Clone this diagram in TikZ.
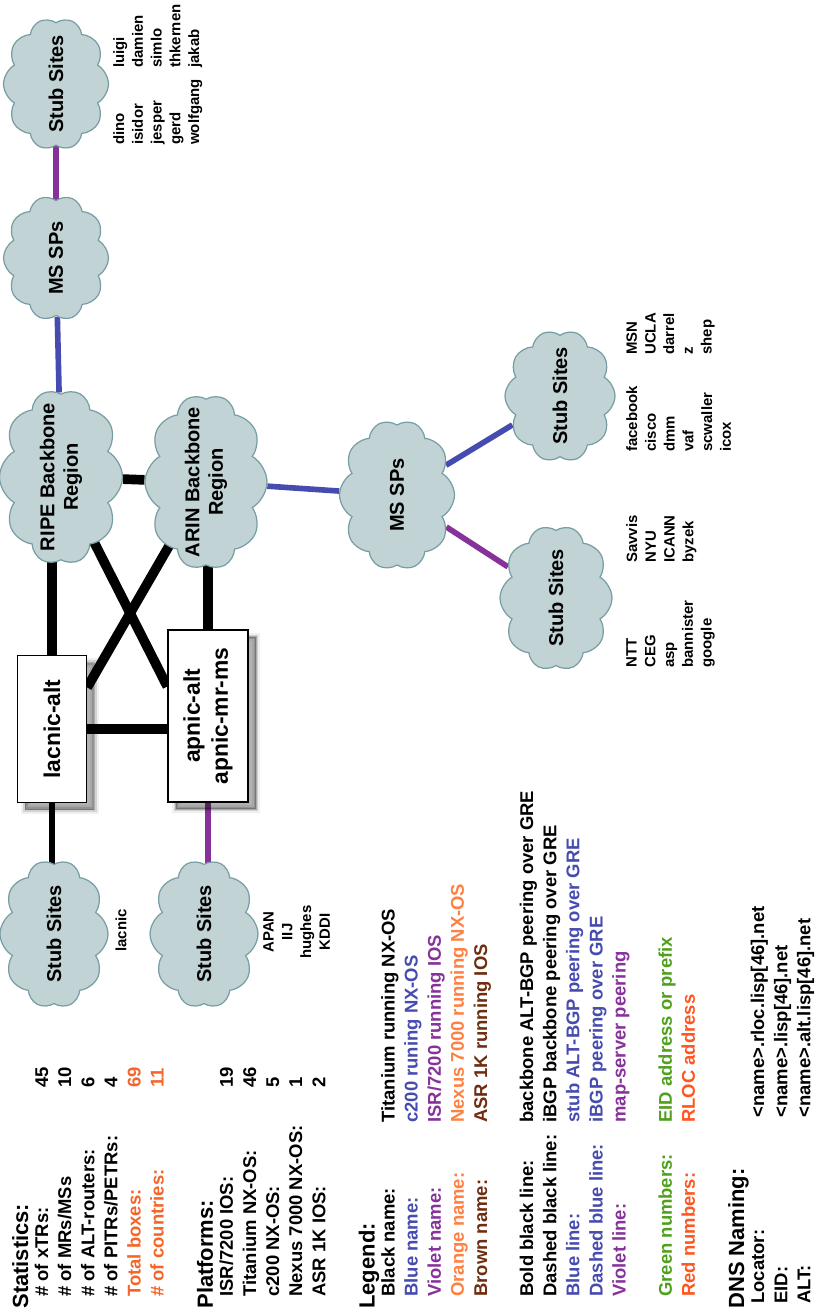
\documentclass[tikz,border=0pt]{standalone}
\usepackage{fontspec}
\setmainfont{Liberation Sans}
\usetikzlibrary{shapes.symbols,shadows,calc}
\definecolor{cloudfill}{RGB}{194,211,213}
\definecolor{cloudline}{RGB}{120,158,163}
\definecolor{cblue}{RGB}{70,75,175}
\definecolor{cviolet}{RGB}{135,50,155}
\definecolor{corange}{RGB}{255,128,64}
\definecolor{ctotal}{RGB}{245,100,40}
\definecolor{cred}{RGB}{255,85,30}
\definecolor{cgreen}{RGB}{80,160,30}
\definecolor{cbrown}{RGB}{110,45,15}
\pgfdeclarelayer{bg}
\pgfdeclarelayer{links}
\pgfsetlayers{bg,links,main}
\tikzset{
  cloudn/.style={cloud, cloud puffs=10, cloud puff arc=120, draw=cloudline, fill=cloudfill, line width=0.7pt, inner sep=0pt},
  ctext/.style={align=center, inner sep=0pt, font=\fontsize{11.4}{13.5}\selectfont\bfseries},
  boxn/.style={draw=black, line width=0.8pt, fill=white, align=center, inner sep=0pt, font=\fontsize{13}{16}\selectfont\bfseries,
    general shadow={shadow xshift=4.5pt, shadow yshift=-4pt, draw=black, draw opacity=0.06, line width=5pt, fill=black, fill opacity=0.3},
    general shadow={shadow xshift=4.5pt, shadow yshift=-4pt, draw=black, draw opacity=0.12, line width=2.6pt},
    general shadow={shadow xshift=4.5pt, shadow yshift=-4pt, draw=black, draw opacity=0.18, line width=0.8pt}},
  boldlink/.style={line width=5.5pt, black},
  thinlink/.style={line width=3.2pt, black},
  bluelink/.style={line width=3.2pt, cblue},
  violetlink/.style={line width=3.2pt, cviolet},
  lt/.style={inner sep=0pt, anchor=base west, font=\fontsize{10.5}{12}\selectfont\bfseries},
  hd/.style={inner sep=0pt, anchor=base west, font=\fontsize{12.5}{14}\selectfont\bfseries},
  names/.style={inner sep=0pt, anchor=north west, align=left, font=\fontsize{8.5}{10.66}\selectfont\bfseries},
}
\begin{document}
\begin{tikzpicture}
\begin{scope}[x=0.02cm, y=-0.02cm, rotate=90, transform shape]
\begin{pgfonlayer}{bg}
\fill[white] (0,0) rectangle (1316,819);
\end{pgfonlayer}
\useasboundingbox (0,0) rectangle (1316,819);

% clouds
\node[cloudn, minimum width=2.64cm, minimum height=2.1cm] (stubTR) at (1232,56) {};
\node[cloudn, minimum width=2.5cm, minimum height=2.1cm] (msTop) at (1058,56) {};
\node[cloudn, minimum width=3.5cm, minimum height=2.46cm] (RIPE) at (839,61) {};
\node[cloudn, minimum width=3.5cm, minimum height=2.44cm] (ARIN) at (834,206) {};
\node[cloudn, minimum width=3.0cm, minimum height=2.3cm] (msMid) at (821,397) {};
\node[cloudn, minimum width=2.64cm, minimum height=2.2cm] (stubR) at (920,560) {};
\node[cloudn, minimum width=2.9cm, minimum height=2.24cm] (stubL2) at (718,556) {};
\node[cloudn, minimum width=2.96cm, minimum height=2.16cm] (stubL) at (382,54) {};
\node[cloudn, minimum width=2.96cm, minimum height=2.16cm] (stubA) at (382,204) {};

\node[ctext] (stubTRt) at (stubTR) {Stub Sites};
\node[ctext] (msTopt) at (msTop) {MS SPs};
\node[ctext] (RIPEt) at (RIPE) {RIPE Backbone\\Region};
\node[ctext] (ARINt) at (ARIN) {ARIN Backbone\\Region};
\node[ctext] (msMidt) at (msMid) {MS SPs};
\node[ctext] (stubRt) at (stubR) {Stub Sites};
\node[ctext] (stubL2t) at (stubL2) {Stub Sites};
\node[ctext] (stubLt) at (stubL) {Stub Sites};
\node[ctext] (stubAt) at (stubA) {Stub Sites};

% boxes
\node[boxn, minimum width=2.94cm, minimum height=1.38cm] (lacnic) at (587,52) {lacnic-alt};
\node[boxn, minimum width=3.44cm, minimum height=1.6cm] (apnic) at (600,208) {apnic-alt\\apnic-mr-ms};

\begin{pgfonlayer}{links}
\draw[violetlink] (msTop) -- (stubTR);
\draw[bluelink] (RIPE) -- (msTop);
\draw[boldlink] (RIPE) -- (ARIN);
\draw[bluelink] (ARIN) -- (msMid);
\draw[bluelink] (msMid) -- (stubR);
\draw[violetlink] (msMid) -- (stubL2);
\draw[boldlink] (lacnic.east) -- (lacnic.east -| RIPE.center);
\draw[boldlink] (apnic.east) -- (apnic.east -| ARIN.center);
\draw[boldlink] (lacnic.south) -- (lacnic.south |- apnic.north);
\draw[boldlink] ($(lacnic.south west)!0.78!(lacnic.south east)$) -- (ARIN.center);
\draw[boldlink] ($(apnic.north west)!0.67!(apnic.north east)$) -- (RIPE.center);
\draw[thinlink] (lacnic.west) -- (lacnic.west -| stubL.center);
\draw[violetlink] (apnic.west) -- (apnic.west -| stubA.center);
\end{pgfonlayer}

% site name lists
\node[names] (trA) at (1171,113) {dino\\isidor\\jesper\\gerd\\wolfgang};
\node[names] (trB) at (1248,113) {luigi\\damien\\simlo\\thkernen\\jakab};
\node[names] (srA) at (864,626) {facebook\\cisco\\dmm\\vaf\\scwaller\\icox};
\node[names] (srB) at (961,626) {MSN\\UCLA\\darrel\\z\\shep};
\node[names] (slA) at (648,626) {NTT\\CEG\\asp\\bannister\\google};
\node[names] (slB) at (753,626) {Savvis\\NYU\\ICANN\\byzek};
\node[names, anchor=west] (lacl) at (364,121) {lacnic};
\node[names, anchor=north, align=center] (apl) at (384,263) {APAN\\IIJ\\hughes\\KDDI};

% statistics
\node[hd] (hS) at (7,28) {Statistics:};
\node[lt] (s1) at (19,48.1) {\# of xTRs:};      \node[lt] (v1) at (228,48.1) {45};
\node[lt] (s2) at (19,71.2) {\# of MRs/MSs};    \node[lt] (v2) at (228,71.2) {10};
\node[lt] (s3) at (19,94.3) {\# of ALT-routers:}; \node[lt] (v3) at (228,94.3) {6};
\node[lt] (s4) at (19,117.4) {\# of PITRs/PETRs:}; \node[lt] (v4) at (228,117.4) {4};
\node[lt, text=ctotal] (s5) at (19,140.5) {Total boxes:}; \node[lt, text=ctotal] (v5) at (228,140.5) {69};
\node[lt, text=ctotal] (s6) at (19,163.6) {\# of countries:}; \node[lt, text=ctotal] (v6) at (228,163.6) {11};

% platforms
\node[hd] (hP) at (7,212.8) {Platforms:};
\node[lt] (p1) at (19,232.9) {ISR/7200 IOS:};      \node[lt] (q1) at (228,232.9) {19};
\node[lt] (p2) at (19,256) {Titanium NX-OS:};       \node[lt] (q2) at (228,256) {46};
\node[lt] (p3) at (19,279.1) {c200 NX-OS:};         \node[lt] (q3) at (228,279.1) {5};
\node[lt] (p4) at (19,302.2) {Nexus 7000 NX-OS:};   \node[lt] (q4) at (228,302.2) {1};
\node[lt] (p5) at (19,325.3) {ASR 1K IOS:};         \node[lt] (q5) at (228,325.3) {2};

% legend
\node[hd] (hL) at (7,374.5) {Legend:};
\node[lt] (l1) at (19,394.6) {Black name:};                  \node[lt] (m1) at (193,394.6) {Titanium running NX-OS};
\node[lt, text=cblue] (l2) at (19,417.7) {Blue name:};       \node[lt, text=cblue] (m2) at (193,417.7) {c200 runing NX-OS};
\node[lt, text=cviolet] (l3) at (19,440.8) {Violet name:};   \node[lt, text=cviolet] (m3) at (193,440.8) {ISR/7200 running IOS};
\node[lt, text=corange] (l4) at (19,463.9) {Orange name:};   \node[lt, text=corange] (m4) at (193,463.9) {Nexus 7000 running NX-OS};
\node[lt, text=cbrown] (l5) at (19,487) {Brown name:};       \node[lt, text=cbrown] (m5) at (193,487) {ASR 1K running IOS};

\node[lt] (k1) at (19,533.2) {Bold black line:};                 \node[lt] (n1) at (193,533.2) {backbone ALT-BGP peering over GRE};
\node[lt] (k2) at (19,556.3) {Dashed black line:};               \node[lt] (n2) at (193,556.3) {iBGP backbone peering over GRE};
\node[lt, text=cblue] (k3) at (19,579.4) {Blue line:};           \node[lt, text=cblue] (n3) at (193,579.4) {stub ALT-BGP peering over GRE};
\node[lt, text=cblue] (k4) at (19,602.5) {Dashed blue line:};    \node[lt, text=cblue] (n4) at (193,602.5) {iBGP peering over GRE};
\node[lt, text=cviolet] (k5) at (19,625.6) {Violet line:};       \node[lt, text=cviolet] (n5) at (193,625.6) {map-server peering};

\node[lt, text=cgreen] (g1) at (19,671.8) {Green numbers:};      \node[lt, text=cgreen] (h1) at (193,671.8) {EID address or prefix};
\node[lt, text=cred] (g2) at (19,694.9) {Red numbers:};          \node[lt, text=cred] (h2) at (193,694.9) {RLOC address};

% DNS naming
\node[hd] (hD) at (7,744.1) {DNS Naming:};
\node[lt] (d1) at (12,764.2) {Locator:}; \node[lt] (e1) at (198,764.2) {<name>.rloc.lisp[46].net};
\node[lt] (d2) at (12,787.3) {EID:};     \node[lt] (e2) at (198,787.3) {<name>.lisp[46].net};
\node[lt] (d3) at (12,810.4) {ALT:};     \node[lt] (e3) at (198,810.4) {<name>.alt.lisp[46].net};
\end{scope}
\end{tikzpicture}
\end{document}
